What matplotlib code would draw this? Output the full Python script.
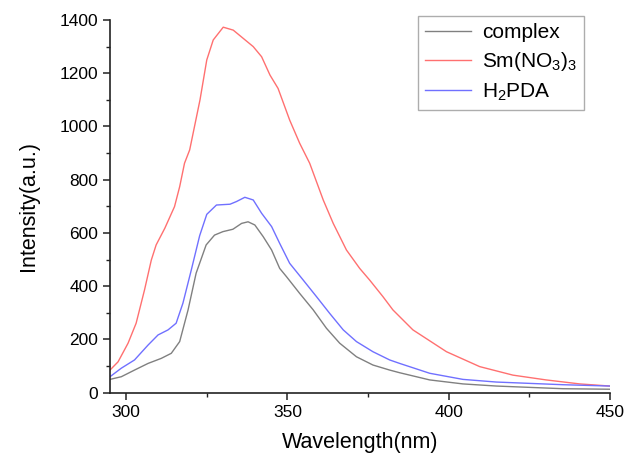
import matplotlib
matplotlib.use("Agg")
import matplotlib.pyplot as plt
from matplotlib.ticker import MultipleLocator

plt.rcParams['font.family'] = ['Liberation Sans', 'DejaVu Sans']
plt.rcParams['mathtext.fontset'] = 'custom'
plt.rcParams['mathtext.rm'] = 'Liberation Sans'
plt.rcParams['mathtext.it'] = 'Liberation Sans:italic'

# complex (gray)
wl_complex = [295, 298.5, 302.6, 306.8, 310.9, 314, 316.6, 319.2, 321.7, 324.8, 327.4, 330,
              333.1, 335.8, 337.8, 339.9, 342.5, 345.1, 347.6, 349.7, 353.8, 358, 362.1,
              366.2, 371.4, 376.5, 381.7, 384.8, 394.1, 404.4, 414.8, 425.1, 435.4, 450]
int_complex = [50, 60, 85, 110, 129, 148, 192, 311, 449, 555, 592, 605,
               614, 636, 642, 630, 586, 536, 467, 436, 373, 311, 242,
               186, 135, 104, 85, 75, 48, 33, 25, 20, 15, 13]

# Sm(NO3)3 (red)
wl_sm = [295, 297.5, 300.6, 303.1, 305.7, 307.8, 309.3, 312, 315, 316.6, 318.1, 319.7,
         322.9, 325, 327, 330.1, 333.2, 336.3, 339.4, 342, 344.6, 347.1, 350.7, 353.8,
         356.9, 361.1, 364.2, 368.3, 372.4, 375.5, 379.6, 382.7, 388.9, 399.3, 409.6,
         419.9, 430.2, 440.6, 450]
int_sm = [85, 116, 186, 261, 386, 498, 555, 618, 699, 774, 862, 912,
          1100, 1250, 1325, 1373, 1362, 1331, 1300, 1262, 1193, 1143, 1024, 937,
          862, 724, 636, 536, 467, 423, 361, 311, 236, 154, 98,
          66, 48, 33, 25]

# H2PDA (blue)
wl_h2pda = [295, 298.5, 302.6, 306.8, 309.9, 313, 315.5, 317.6, 320.2, 322.8, 325, 328,
            332.2, 334.2, 336.8, 339.4, 342, 345.1, 347.6, 350.7, 354.9, 359, 363.1,
            367.3, 371.4, 376.5, 381.7, 384.8, 394.1, 404.4, 414.8, 425.1, 435.4, 450]
int_h2pda = [60, 92, 123, 179, 217, 236, 261, 336, 461, 590, 670, 705,
             708, 718, 734, 724, 674, 624, 561, 486, 423, 361, 298,
             236, 192, 154, 123, 110, 73, 50, 40, 35, 30, 25]

labels = ['complex', 'Sm(NO$_3$)$_3$', 'H$_2$PDA']
colors = ['#808080', '#ff7070', '#7070ff']

fig = plt.figure(figsize=(6.27, 4.55), dpi=100)
ax = fig.add_axes([110/627, 62.3/455, 500/627, 372.7/455])

ax.plot(wl_complex, int_complex, color=colors[0], lw=1.0, label=labels[0])
ax.plot(wl_sm, int_sm, color=colors[1], lw=1.0, label=labels[1])
ax.plot(wl_h2pda, int_h2pda, color=colors[2], lw=1.0, label=labels[2])

ax.set_xlim(295, 450)
ax.set_ylim(0, 1400)
ax.xaxis.set_major_locator(MultipleLocator(50))
ax.xaxis.set_minor_locator(MultipleLocator(25))
ax.yaxis.set_major_locator(MultipleLocator(200))
ax.yaxis.set_minor_locator(MultipleLocator(100))

for s in ['top', 'right']:
    ax.spines[s].set_visible(False)
for s in ['left', 'bottom']:
    ax.spines[s].set_linewidth(1.2)
    ax.spines[s].set_color('#222222')

ax.tick_params(which='major', direction='out', length=5, width=1.1, labelsize=12.5, colors='#222222')
ax.tick_params(which='minor', direction='out', length=3, width=1.0, colors='#222222')
ax.tick_params(labelcolor='black')

ax.set_xlabel('Wavelength(nm)', fontsize=15.5, labelpad=9)
ax.set_ylabel('Intensity(a.u.)', fontsize=15.5, labelpad=15)

leg = ax.legend(loc='upper right', bbox_to_anchor=(584/627, 1 - 15.7/455),
                bbox_transform=fig.transFigure, fontsize=15, frameon=True,
                fancybox=False, edgecolor='#999999', handlelength=2.2,
                handletextpad=0.5, borderpad=0.35, labelspacing=0.4,
                borderaxespad=0)
leg.get_frame().set_linewidth(1.0)

fig.savefig('out.png', dpi=100)
